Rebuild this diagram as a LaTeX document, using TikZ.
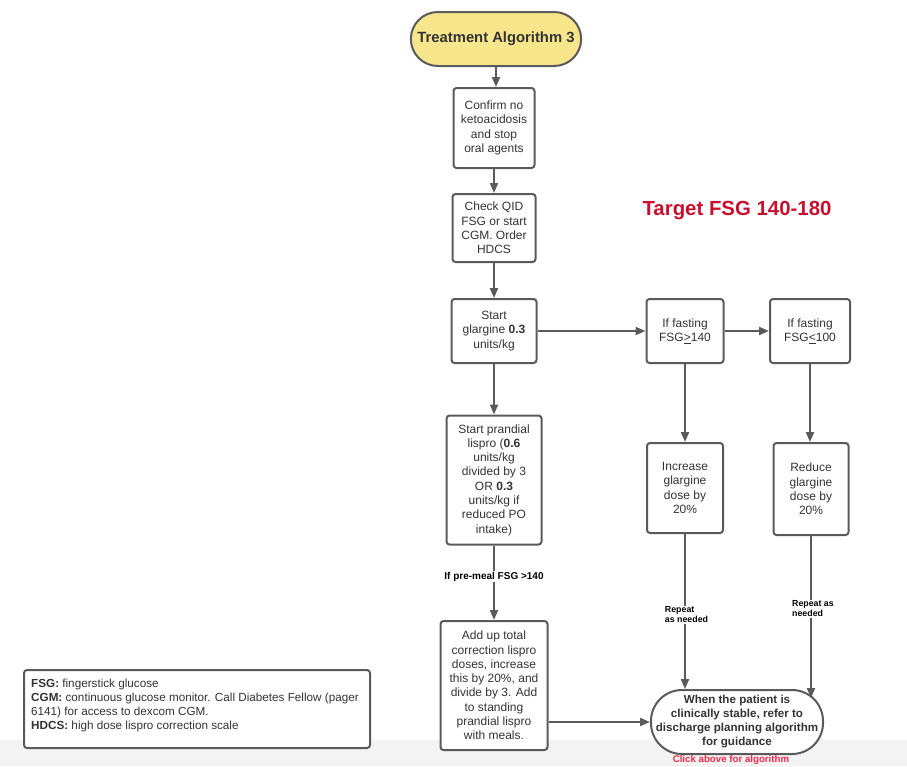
\documentclass[tikz,border=0pt]{standalone}
\usepackage{fontspec}
\setmainfont{Liberation Sans}
\usetikzlibrary{shapes.misc,arrows.meta}
\definecolor{lineg}{HTML}{5A5A5A}
\definecolor{txtg}{HTML}{333333}
\definecolor{termy}{HTML}{F6E58A}
\definecolor{tred}{HTML}{C8102E}
\definecolor{cred}{HTML}{F0284A}
\definecolor{band}{HTML}{F3F3F3}
\tikzset{
  boxst/.style={draw=lineg, line width=2pt, rounded corners=3pt, fill=white, align=center,
    text=txtg, inner sep=1pt, font=\fontsize{12}{14.3}\selectfont},
  termst/.style={draw=lineg, line width=2pt, rounded rectangle, align=center, text=txtg},
  conn/.style={draw=lineg, line width=2pt, -{Triangle[length=10pt,width=8pt]}},
  lbl/.style={fill=white, text=black, inner sep=1pt, font=\bfseries\fontsize{8.8}{10}\selectfont, align=left}
}
\begin{document}
\begin{tikzpicture}[x=1pt,y=-1pt]
\useasboundingbox (0,0) rectangle (907,766);
\fill[band] (0,740) rectangle (907,766);

\node[termst, fill=termy, minimum width=177pt, minimum height=54pt, font=\bfseries\fontsize{14.8}{17}\selectfont] (start) at (496,39) {Treatment Algorithm 3};

\node[boxst, minimum width=81pt, minimum height=80pt] (b1) at (494,128) {Confirm no\\ketoacidosis\\and stop\\oral agents};
\node[boxst, minimum width=83pt, minimum height=68pt] (b2) at (494,228) {Check QID\\FSG or start\\CGM. Order\\HDCS};
\node[boxst, minimum width=85pt, minimum height=64pt] (b3) at (494,331) {Start\\glargine \textbf{0.3}\\units/kg};
\node[boxst, minimum width=77pt, minimum height=64pt] (b4) at (685,331) {If fasting\\FSG\underline{>}140};
\node[boxst, minimum width=80pt, minimum height=64pt] (b5) at (810,331) {If fasting\\FSG\underline{<}100};
\node[boxst, minimum width=95pt, minimum height=129pt] (b6) at (494,480) {Start prandial\\lispro (\textbf{0.6}\\units/kg\\divided by 3\\OR \textbf{0.3}\\units/kg if\\reduced PO\\intake)};
\node[boxst, minimum width=76pt, minimum height=90pt] (b7) at (685,488) {Increase\\glargine\\dose by\\20\%};
\node[boxst, minimum width=75pt, minimum height=92pt] (b8) at (811,489) {Reduce\\glargine\\dose by\\20\%};
\node[boxst, minimum width=107pt, minimum height=129pt] (b9) at (494,685.5) {Add up total\\correction lispro\\doses, increase\\this by 20\%, and\\divide by 3. Add\\to standing\\prandial lispro\\with meals.};
\node[draw=lineg, line width=2pt, rounded corners=31pt, fill=white, minimum width=172pt, minimum height=64pt, inner sep=0pt,
  align=center, text=txtg, font=\bfseries\fontsize{11.6}{14}\selectfont] (end) at (737,722) {When the patient is\\clinically stable, refer to\\discharge planning algorithm\\for guidance};

\node[text=tred, font=\bfseries\fontsize{20.4}{23}\selectfont] (target) at (737,211) {Target FSG 140-180};
\node[text=cred, font=\bfseries\fontsize{9.7}{11}\selectfont] (click) at (731,760) {Click above for algorithm};

\node[draw=lineg, line width=2pt, rounded corners=3pt, fill=white, minimum width=346pt, minimum height=78pt,
  text=txtg, inner sep=0pt] (legend) at (197,709) {};
\node[anchor=north west, align=left, text=txtg, font=\fontsize{11.7}{14}\selectfont, inner sep=0pt] (legtext) at (31,679)
  {\textbf{FSG:} fingerstick glucose\\\textbf{CGM:} continuous glucose monitor. Call Diabetes Fellow (pager\\6141) for access to dexcom CGM.\\\textbf{HDCS:} high dose lispro correction scale};

\coordinate (e2) at (811,698);

\draw[conn] (start.south) -- (start.south |- b1.north);
\draw[conn] (b1) -- (b2);
\draw[conn] (b2) -- (b3);
\draw[conn] (b3) -- (b4);
\draw[conn] (b4) -- (b5);
\draw[conn] (b3) -- (b6);
\draw[conn] (b4) -- (b7);
\draw[conn] (b5.south) -- (b5.south |- b8.north);
\draw[conn] (b6) -- (b9) node[lbl, pos=0.42, font=\bfseries\fontsize{10}{11}\selectfont] (l1) {If pre-meal FSG >140};
\draw[conn] (b7.south) -- (b7.south |- end.north) node[lbl, pos=0.52, xshift=1.5pt] (l2) {Repeat\\as needed};
\draw[conn] (b8.south) -- (e2) node[lbl, pos=0.45, xshift=2pt] (l3) {Repeat as\\needed};
\draw[conn] (b9.east |- end.west) -- (end.west);
\end{tikzpicture}
\end{document}
